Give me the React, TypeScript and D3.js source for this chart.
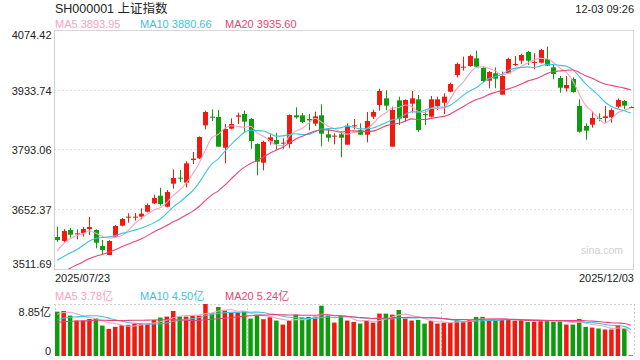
import React from "react";
import * as d3 from "d3";

// ---------- data ----------
const opens = [3587.0,3577.6,3603.5,3593.3,3595.6,3605.8,3603.5,3565.8,3544.6,3587.8,3613.7,3632.5,3633.3,3634.9,3646.6,3666.3,3684.3,3658.4,3712.6,3726.7,3715.0,3768.3,3772.2,3849.9,3870.3,3869.6,3797.3,3842.1,3870.3,3876.6,3864.9,3806.0,3762.0,3812.3,3815.4,3806.8,3806.0,3873.5,3873.5,3864.9,3853.9,3873.5,3828.7,3823.3,3828.7,3804.4,3847.6,3838.9,3827.9,3870.3,3897.8,3913.5,3799.7,3908.8,3867.2,3900.9,3911.2,3876.6,3870.3,3895.5,3903.3,3929.2,3968.5,3985.7,3989.6,4007.7,3985.0,3955.1,3972.4,3922.2,3972.4,3992.0,4002.2,4022.6,3996.7,3997.5,4006.1,3986.5,3961.4,3937.1,3959.0,3895.5,3848.4,3851.5,3867.2,3867.2,3868.8,3893.9,3907.2,3893.1];
const highs = [3611.3,3605.8,3608.2,3605.0,3610.5,3634.1,3605.0,3579.9,3579.9,3615.3,3631.7,3642.7,3643.5,3654.5,3666.3,3686.7,3703.1,3697.7,3746.3,3744.8,3765.2,3787.1,3824.0,3884.5,3887.6,3886.0,3853.1,3866.4,3879.8,3884.5,3867.2,3807.5,3813.8,3828.7,3832.7,3819.3,3875.8,3892.3,3879.0,3876.6,3882.1,3899.4,3840.5,3831.1,3835.8,3854.6,3864.9,3854.6,3881.3,3886.8,3936.3,3932.3,3893.9,3917.4,3911.2,3930.8,3921.4,3884.5,3919.0,3917.4,3925.3,3950.4,3997.5,4011.6,4016.3,4025.7,3988.1,3977.9,3986.5,3976.3,4009.3,4013.2,4018.7,4025.0,4019.5,4029.7,4035.2,3992.0,3966.1,3966.1,3963.0,3911.2,3854.6,3882.9,3878.2,3895.5,3889.9,3913.5,3909.6,3894.7];
const lows = [3576.0,3575.2,3585.4,3581.5,3587.8,3591.7,3560.3,3547.0,3544.6,3586.2,3612.1,3620.8,3625.5,3628.6,3645.1,3664.7,3660.8,3656.8,3700.8,3716.5,3704.0,3758.9,3770.7,3840.5,3860.1,3799.7,3760.5,3840.5,3853.1,3834.2,3795.0,3732.2,3744.0,3804.4,3791.1,3795.0,3795.8,3865.6,3855.4,3838.2,3848.4,3800.5,3811.5,3805.2,3774.6,3804.4,3840.5,3827.2,3809.9,3864.9,3884.5,3885.3,3799.7,3850.7,3858.6,3879.8,3834.2,3850.7,3868.8,3886.0,3876.6,3927.6,3963.0,3978.7,3988.1,3986.5,3952.0,3937.1,3937.1,3922.2,3970.8,3989.6,3994.4,3992.0,3981.8,3995.9,3989.6,3958.3,3926.8,3929.2,3926.8,3832.7,3816.2,3844.4,3859.4,3856.2,3856.2,3889.9,3888.4,3890.8];
const closes = [3579.9,3601.1,3592.5,3595.6,3605.8,3610.5,3573.6,3556.4,3577.6,3612.9,3629.4,3634.9,3634.9,3641.9,3662.3,3678.8,3664.7,3692.9,3725.9,3724.3,3760.5,3771.5,3822.5,3881.3,3868.8,3799.7,3841.3,3853.1,3873.5,3858.6,3813.0,3764.4,3810.7,3821.7,3806.0,3809.1,3874.3,3868.8,3857.8,3861.7,3871.1,3830.3,3820.9,3825.6,3820.9,3849.1,3849.9,3827.9,3860.1,3881.3,3930.8,3896.3,3886.0,3865.6,3909.6,3913.5,3838.9,3874.3,3911.2,3911.2,3917.4,3947.3,3994.4,3988.1,4013.2,3988.1,3954.3,3975.5,3959.8,3966.1,4006.1,3994.4,4015.5,4002.2,3999.1,4027.3,3990.4,3970.8,3938.6,3944.9,3928.4,3835.0,3837.4,3867.2,3864.9,3871.1,3886.0,3909.6,3896.3,3892.3];
// closes of the 19 sessions before the first visible one (for the moving averages)
const priorCloses = [3448.45,3424.23,3444.43,3457.75,3454.79,3461.15,3472.32,3473.13,3497.48,3493.05,3509.68,3510.18,3519.65,3505.0,3503.78,3516.83,3534.48,3559.79,3581.86];
// volume, 亿
const volumes = [7.55,7.66,6.88,6.03,6.03,6.31,6.42,5.18,4.62,4.96,5.24,5.30,5.47,5.52,5.52,6.14,6.54,6.71,7.66,6.71,6.71,6.88,6.88,8.85,7.27,8.34,7.72,7.33,7.38,7.55,6.37,6.93,6.26,6.59,6.03,5.35,6.03,6.99,6.54,6.65,6.71,8.57,6.88,5.69,6.88,6.03,5.80,5.52,6.03,5.69,7.21,7.21,7.04,7.83,6.37,6.03,6.14,5.52,5.97,5.52,5.69,5.63,6.26,5.92,6.14,6.65,6.65,6.09,6.09,6.20,6.26,6.03,6.20,5.80,5.80,6.09,6.09,5.86,5.92,5.35,5.35,6.31,4.96,4.84,4.68,4.51,4.51,5.24,4.68,0.12];
const priorVolumes = [5.0,5.3,5.1,5.6,5.2,4.9,5.4,5.3,5.2,5.4,4.9,5.1,5.3,5.2,5.4,6.2,6.6,7.4,7.75];

const priceTicks = ["4074.42", "3933.74", "3793.06", "3652.37", "3511.69"];
const volTicks = ["8.85亿", "0"];
const dateLabels = ["2025/07/23", "2025/12/03"];
const title = "SH000001 上证指数";
const timeLabel = "12-03 09:26";
const maPeriods = [5, 10, 20];
const maLegend = ["MA5 3893.95", "MA10 3880.66", "MA20 3935.60"];
const volLegend = ["MA5 3.78亿", "MA10 4.50亿", "MA20 5.24亿"];

// ---------- style ----------
const W = 640, H = 360;
const L = 54, R = 634, T = 30, B = 269;
const VT = 304, VB = 356;
const UP = "#f01a0e", DOWN = "#0c9c0c";
const MA_COLORS = ["#f8a2c2", "#3ac4de", "#ec4279"];
const FONT = "'Liberation Sans', Arial, 'Noto Sans CJK SC', sans-serif";

function movingAvg(prior: number[], vals: number[], n: number): number[] {
  const all = prior.concat(vals);
  const off = prior.length;
  return vals.map((_, i) => {
    const end = off + i;
    const start = Math.max(0, end - n + 1);
    return d3.mean(all.slice(start, end + 1)) as number;
  });
}

export default function App() {
  const n = closes.length;
  const idx = d3.range(n);
  const x = d3.scaleBand<number>().domain(idx).range([L, R]).paddingInner(0.22).paddingOuter(0.11);
  const cx = (i: number) => (x(i) as number) + x.bandwidth() / 2;
  const pMin = +priceTicks[priceTicks.length - 1];
  const pMax = +priceTicks[0];
  const y = d3.scaleLinear().domain([pMin, pMax]).range([B, T]);
  const vMax = parseFloat(volTicks[0]);
  const vy = d3.scaleLinear().domain([0, vMax]).range([VB, VT]);

  const priceMAs = maPeriods.map((p) => movingAvg(priorCloses, closes, p));
  const volMAs = maPeriods.map((p) => movingAvg(priorVolumes, volumes, p));
  const line = (sc: d3.ScaleLinear<number, number>) =>
    d3.line<number>().x((_, i) => cx(i)).y((d) => sc(d)).curve(d3.curveMonotoneX);

  const bw = 5;
  const vbw = 4.5;

  return (
    <svg width={W} height={H} style={{ display: "block", position: "absolute", left: 0, top: 0, background: "#fff" }} fontFamily={FONT}>
      <defs>
        <clipPath id="pclip"><rect x={L} y={T} width={R - L} height={B - T} /></clipPath>
        <clipPath id="vclip"><rect x={L} y={VT} width={R - L} height={VB - VT} /></clipPath>
      </defs>
      {/* header */}
      <text x={55} y={13} fontSize={12.5} fill="#222">{title}</text>
      <text x={634} y={12.5} fontSize={11} fill="#222" textAnchor="end">{timeLabel}</text>
      {maLegend.map((t, k) => (
        <text key={t} x={55 + k * 85} y={28} fontSize={11} fill={MA_COLORS[k]}>{t}</text>
      ))}

      {/* price grid */}
      {priceTicks.map((t, k) => {
        const yy = Math.round(y(+t)) + 0.5;
        const edge = k === 0 || k === priceTicks.length - 1;
        return (
          <g key={t}>
            <line x1={L} x2={R} y1={yy} y2={yy} stroke={edge ? "#d6d6d6" : "#e2e2e2"} strokeDasharray={edge ? undefined : "2,2"} />
            <text x={51.5} y={k === 0 ? yy + 8 : k === priceTicks.length - 1 ? yy - 1.5 : yy + 4} fontSize={11} fill="#222" textAnchor="end">{t}</text>
          </g>
        );
      })}
      <line x1={L + 0.5} x2={L + 0.5} y1={T} y2={B} stroke="#d0d0d0" />
      <line x1={R - 0.5} x2={R - 0.5} y1={T} y2={B} stroke="#d6d6d6" />

      {/* candles */}
      <g>
        {idx.map((i) => {
          const up = closes[i] >= opens[i];
          const c = up ? UP : DOWN;
          const xc = Math.round(cx(i)) + 0.5;
          const top = y(Math.max(opens[i], closes[i]));
          const bot = y(Math.min(opens[i], closes[i]));
          return (
            <g key={i}>
              <line x1={xc} x2={xc} y1={y(highs[i])} y2={y(lows[i])} stroke={c} />
              <rect x={xc - bw / 2} y={top} width={bw} height={Math.max(1, bot - top)} fill={c} />
            </g>
          );
        })}
      </g>
      <g clipPath="url(#pclip)">
        {priceMAs.map((m, k) => (
          <path key={k} d={line(y)(m) as string} fill="none" stroke={MA_COLORS[k]} strokeWidth={1.1} />
        ))}
      </g>
      <text x={623} y={253.5} fontSize={10.5} fill="#cfcfcf" textAnchor="end">sina.com</text>

      {/* dates */}
      <text x={55} y={282} fontSize={11} fill="#222">{dateLabels[0]}</text>
      <text x={634} y={282} fontSize={11} fill="#222" textAnchor="end">{dateLabels[1]}</text>

      {/* volume */}
      {volLegend.map((t, k) => (
        <text key={t} x={55 + k * 85} y={299.5} fontSize={11} fill={MA_COLORS[k]}>{t}</text>
      ))}
      <line x1={L} x2={R} y1={VT + 0.5} y2={VT + 0.5} stroke="#d0d0d0" strokeDasharray="2,2" />
      {[L + 0.5, L + (R - L) / 3, L + (2 * (R - L)) / 3, R - 0.5].map((xx, k) => (
        <line key={k} x1={Math.round(xx) + 0.5} x2={Math.round(xx) + 0.5} y1={VT} y2={VB} stroke="#d0d0d0" strokeDasharray="2,2" />
      ))}
      <text x={51} y={316} fontSize={11} fill="#222" textAnchor="end">{volTicks[0]}</text>
      <text x={51} y={VB - 1} fontSize={11} fill="#222" textAnchor="end">{volTicks[1]}</text>
      {idx.map((i) => {
        const up = closes[i] >= opens[i];
        const xc = cx(i);
        return (
          <rect key={i} x={xc - vbw / 2} y={vy(volumes[i])} width={vbw} height={VB - vy(volumes[i])} fill={up ? UP : DOWN} />
        );
      })}
      <g clipPath="url(#vclip)">
        {volMAs.map((m, k) => (
          <path key={k} d={line(vy)(m) as string} fill="none" stroke={MA_COLORS[k]} strokeWidth={1.1} />
        ))}
      </g>
    </svg>
  );
}
